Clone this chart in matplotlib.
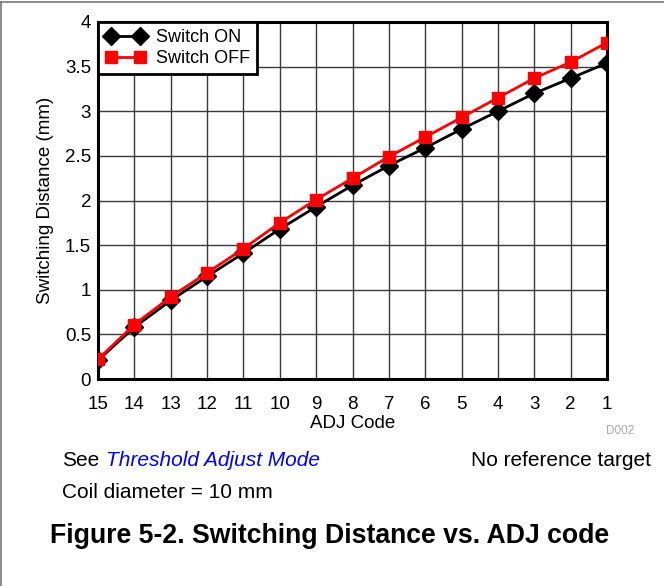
import numpy as np
import matplotlib.pyplot as plt
from matplotlib.lines import Line2D

plt.rcParams['font.family'] = ['Liberation Sans', 'DejaVu Sans']

adj_codes = [15, 14, 13, 12, 11, 10, 9, 8, 7, 6, 5, 4, 3, 2, 1]
switch_on = [0.21, 0.58, 0.88, 1.15, 1.41, 1.68, 1.93, 2.17, 2.39, 2.59, 2.80, 3.00, 3.20, 3.37, 3.54]
switch_off = [0.22, 0.61, 0.92, 1.19, 1.46, 1.75, 2.01, 2.25, 2.49, 2.71, 2.93, 3.15, 3.37, 3.55, 3.77]
y_ticks = [0, 0.5, 1, 1.5, 2, 2.5, 3, 3.5, 4]
y_labels = ['0', '0.5', '1', '1.5', '2', '2.5', '3', '3.5', '4']

fig = plt.figure(figsize=(6.64, 5.86), dpi=100)
ax = fig.add_axes([98 / 664, 1 - 379 / 586, 509 / 664, 357 / 586])

x = np.arange(len(adj_codes))
ax.plot(x, switch_on, color='black', lw=2, marker='D', ms=9, label='Switch ON', zorder=3)
ax.plot(x, switch_off, color='red', lw=2, marker='s', ms=9, label='Switch OFF', zorder=4)

ax.set_xlim(0, len(adj_codes) - 1)
ax.set_ylim(0, 4)
ax.set_xticks(x)
ax.set_xticklabels([str(c) for c in adj_codes])
ax.set_yticks(y_ticks)
ax.set_yticklabels(y_labels)
ax.tick_params(length=0, labelsize=13.5)
ax.tick_params(axis='x', pad=12)
ax.tick_params(axis='y', pad=5)
ax.grid(True, color='#3a3a3a', lw=1)
ax.set_axisbelow(True)
for s in ax.spines.values():
    s.set_linewidth(2.2)

ax.set_xlabel('ADJ Code', fontsize=13.5, labelpad=2)
ax.set_ylabel('Switching Distance (mm)', fontsize=13.5, labelpad=8)

leg = ax.legend(loc='upper left', numpoints=2, fontsize=13, fancybox=False,
                framealpha=1, edgecolor='black', borderaxespad=0,
                handlelength=2.2, borderpad=0.4, labelspacing=0.2, handletextpad=0.6)
leg.get_frame().set_linewidth(2)

fig.text(634 / 664, 1 - 431 / 586, 'D002', fontsize=8.5, color='#aaaaaa', ha='right', va='center')
fig.text(62 / 664, 1 - 460 / 586, 'See', fontsize=15, ha='left', va='center')
fig.text(106 / 664, 1 - 460 / 586, 'Threshold Adjust Mode', fontsize=15, style='italic',
         color='#0000ff', ha='left', va='center')
fig.text(651 / 664, 1 - 460 / 586, 'No reference target', fontsize=15, ha='right', va='center')
fig.text(62 / 664, 1 - 492 / 586, 'Coil diameter = 10 mm', fontsize=15, ha='left', va='center')
fig.text(50 / 664, 1 - 536 / 586, 'Figure 5-2. Switching Distance vs. ADJ code', fontsize=19.2,
         fontweight='bold', ha='left', va='center')

# thin page border at the top and left
fig.add_artist(Line2D([0.002, 0.002], [0, 0.997], color='#777777', lw=1.2, transform=fig.transFigure))
fig.add_artist(Line2D([0.002, 1], [0.997, 0.997], color='#777777', lw=1.2, transform=fig.transFigure))

fig.savefig('out.png', dpi=100)
